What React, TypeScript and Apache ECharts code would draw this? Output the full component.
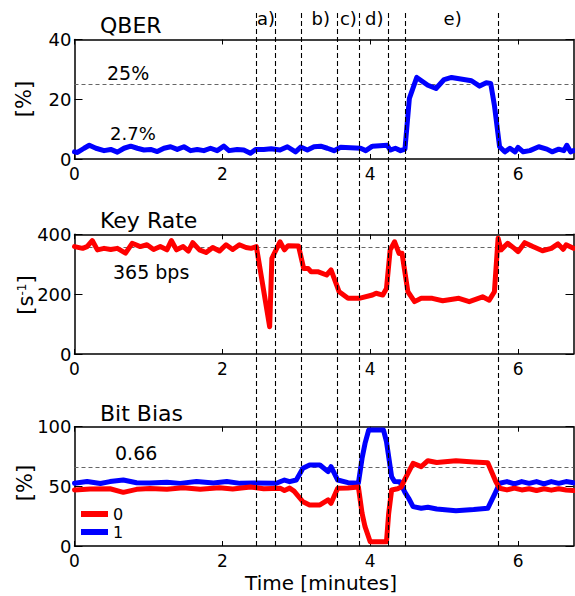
import React, { useEffect, useRef } from 'react';
import * as echarts from 'echarts';

const FONT = 'DejaVu Sans';
const X_MAX = 6.75;
const xTickValues = [0, 2, 4, 6];

// QBER [%] vs time [minutes]
const qberData: [number, number][] = [
  [0, 2.4], [0.04, 2.2], [0.13, 3.6], [0.2, 4.6], [0.29, 3.6], [0.4, 2.8], [0.49, 3.2], [0.58, 2.3],
  [0.67, 3.6], [0.76, 4.3], [0.85, 3.6], [0.94, 3.0], [1.03, 3.2], [1.12, 2.5], [1.21, 3.6], [1.3, 4.1],
  [1.39, 3.2], [1.48, 4.1], [1.57, 2.8], [1.66, 3.2], [1.75, 2.8], [1.84, 3.6], [1.93, 2.8], [2.02, 4.3],
  [2.09, 2.8], [2.2, 3.2], [2.29, 3.0], [2.38, 1.9], [2.45, 3.2], [2.56, 3.2], [2.66, 3.4], [2.78, 3.0],
  [2.88, 4.1], [2.99, 2.4], [3.06, 4.0], [3.15, 3.0], [3.24, 4.1], [3.33, 4.3], [3.42, 3.6], [3.51, 2.8],
  [3.6, 3.9], [3.87, 3.6], [3.94, 2.8], [4.03, 4.3], [4.23, 4.6], [4.27, 3.0], [4.34, 3.6], [4.41, 2.8],
  [4.47, 3.3], [4.53, 20.3], [4.63, 27.3], [4.78, 24.7], [4.89, 23.6], [5.0, 26.6], [5.1, 27.3],
  [5.37, 26.2], [5.48, 24.4], [5.57, 25.5], [5.63, 25.3], [5.68, 18], [5.75, 4.1], [5.82, 2.4],
  [5.89, 3.6], [5.96, 2.4], [6.0, 3.9], [6.07, 2.4], [6.16, 2.8], [6.28, 4.1], [6.39, 3.3], [6.46, 2.4],
  [6.55, 3.3], [6.62, 2.8], [6.66, 4.6], [6.71, 2.4], [6.75, 2.8],
];

// Key rate [1/s] vs time [minutes]
const keyRateData: [number, number][] = [
  [0, 359], [0.11, 353], [0.17, 359], [0.24, 379], [0.31, 348], [0.4, 353], [0.49, 349], [0.58, 353],
  [0.69, 337], [0.78, 370], [0.89, 359], [0.98, 365], [1.07, 349], [1.16, 359], [1.25, 348], [1.31, 379],
  [1.38, 348], [1.47, 359], [1.54, 344], [1.6, 372], [1.69, 348], [1.78, 339], [1.87, 356], [1.96, 344],
  [2.05, 365], [2.14, 349], [2.23, 365], [2.32, 356], [2.39, 353], [2.46, 359], [2.64, 91], [2.67, 320],
  [2.78, 375], [2.84, 348], [2.89, 362], [3.03, 361], [3.1, 286], [3.16, 286], [3.2, 275], [3.29, 275],
  [3.41, 264], [3.47, 281], [3.58, 208], [3.7, 186], [3.85, 186], [4.03, 197], [4.08, 203], [4.17, 197],
  [4.22, 219], [4.27, 348], [4.33, 375], [4.39, 336], [4.43, 337], [4.51, 208], [4.6, 175], [4.69, 186],
  [4.84, 186], [4.98, 178], [5.2, 186], [5.34, 175], [5.52, 191], [5.61, 180], [5.68, 208], [5.73, 387],
  [5.77, 348], [5.86, 370], [5.95, 353], [6.0, 342], [6.09, 372], [6.2, 359], [6.33, 345], [6.45, 353],
  [6.54, 368], [6.61, 350], [6.65, 365], [6.75, 353],
];

// Bit bias [%] of bit value 0 (red) and 1 (blue)
const bit0Data: [number, number][] = [
  [0, 47], [0.21, 47.8], [0.48, 48], [0.66, 45], [0.84, 47.5], [1.02, 48.2], [1.25, 47.5], [1.47, 48.8],
  [1.7, 47.5], [1.96, 48.8], [2.14, 47.8], [2.38, 49.5], [2.56, 48], [2.78, 48.5], [2.84, 46.5], [2.91, 48.5],
  [2.97, 46], [3.09, 37.1], [3.18, 34.4], [3.32, 34.4], [3.43, 38.6], [3.47, 35.8], [3.56, 48.4],
  [3.7, 48.7], [3.84, 49.5], [3.89, 27.4], [3.93, 16.2], [4.0, 3.6], [4.22, 3.6], [4.25, 27.4],
  [4.29, 47], [4.37, 48], [4.42, 49.5], [4.47, 56], [4.58, 69.3], [4.69, 66.5], [4.78, 71.5], [4.9, 70],
  [5.16, 71.5], [5.4, 70.5], [5.59, 69.8], [5.7, 53.9], [5.75, 48.4], [5.85, 47], [5.95, 48.5],
  [6.05, 47], [6.15, 48], [6.25, 46.5], [6.35, 48], [6.45, 46.8], [6.55, 48], [6.65, 47],
  [6.75, 46.5],
];
const bit1Data: [number, number][] = [
  [0, 52.6], [0.17, 54], [0.35, 52.4], [0.48, 54], [0.66, 55.3], [0.84, 53], [1.02, 52.8], [1.25, 53.5],
  [1.43, 52.5], [1.65, 54], [1.88, 52.8], [2.06, 54], [2.24, 52.5], [2.42, 52.8], [2.73, 52.6], [2.84, 55.3],
  [2.91, 53.9], [3.0, 55.3], [3.09, 65.1], [3.18, 67.9], [3.32, 67.9], [3.43, 62.3], [3.47, 66.5],
  [3.56, 55.3], [3.7, 53.1], [3.84, 52.6], [3.89, 73.5], [3.93, 86], [3.98, 97.2], [4.18, 97.2],
  [4.22, 87.4], [4.29, 58], [4.33, 54], [4.4, 53.9], [4.47, 45], [4.52, 40], [4.58, 33], [4.69, 31.6],
  [4.78, 32.5], [4.9, 31], [5.16, 29.6], [5.4, 30.5], [5.59, 31.6], [5.7, 45.5], [5.75, 52.6],
  [5.85, 54], [5.95, 52], [6.05, 54], [6.15, 52.5], [6.25, 54], [6.35, 52], [6.45, 54], [6.55, 52.5],
  [6.65, 54], [6.75, 53],
];

// Reference levels
const qberRef = 25;
const keyRateRef = 358;
const biasRef = 66;

// Event boundaries [minutes] and their labels
const eventTimes = [2.456, 2.717, 3.069, 3.556, 3.854, 4.242, 4.476, 5.731];
const eventLabels = ['a)', 'b)', 'c)', 'd)', 'e)'];
const eventLabelTimes = [2.59, 3.33, 3.705, 4.055, 5.115];

const grids = [
  { left: 74.5, right: 1.5, top: 39.5, height: 119.5 },
  { left: 74.5, right: 1.5, top: 234.3, height: 119.7 },
  { left: 74.5, right: 1.5, top: 426.7, height: 119.3 },
  { left: 74.5, right: 1.5, top: 13, height: 533 },
];
const yRanges = [
  { max: 40, interval: 20 },
  { max: 400, interval: 200 },
  { max: 100, interval: 50 },
];

const axisLine = { show: true, onZero: false, lineStyle: { color: '#000', width: 1.5 } };

function buildOption(): any {
  const xAxis: any[] = [];
  const yAxis: any[] = [];
  for (let i = 0; i < 3; i++) {
    xAxis.push({
      type: 'value', gridIndex: i, min: 0, max: X_MAX, position: 'bottom',
      axisLine,
      axisTick: { show: true, inside: true, length: 5, customValues: xTickValues, lineStyle: { color: '#000', width: 1 } },
      axisLabel: { show: true, customValues: xTickValues, margin: 6, color: '#000', fontFamily: FONT, fontSize: 17 },
      splitLine: { show: false },
    });
    yAxis.push({
      type: 'value', gridIndex: i, min: 0, max: yRanges[i].max, interval: yRanges[i].interval, position: 'left',
      axisLine,
      axisTick: { show: true, inside: true, length: 8, lineStyle: { color: '#000', width: 1 } },
      axisLabel: { show: true, margin: 3, color: '#000', fontFamily: FONT, fontSize: 18 },
      splitLine: { show: false },
    });
  }
  for (let i = 0; i < 3; i++) {
    xAxis.push({
      type: 'value', gridIndex: i, min: 0, max: X_MAX, position: 'top',
      axisLine,
      axisTick: { show: true, inside: true, length: 5, customValues: xTickValues, lineStyle: { color: '#000', width: 1 } },
      axisLabel: { show: false },
      splitLine: { show: false },
    });
    yAxis.push({
      type: 'value', gridIndex: i, min: 0, max: yRanges[i].max, interval: yRanges[i].interval, position: 'right',
      axisLine,
      axisTick: { show: true, inside: true, length: 8, lineStyle: { color: '#000', width: 1 } },
      axisLabel: { show: false },
      splitLine: { show: false },
    });
  }
  xAxis.push({ type: 'value', gridIndex: 3, min: 0, max: X_MAX, show: false });
  yAxis.push({ type: 'value', gridIndex: 3, min: 0, max: 1, show: false });

  const refLine = (v: number) => ({
    silent: true,
    symbol: ['none', 'none'],
    label: { show: false },
    lineStyle: { color: '#666', width: 1, type: [4, 3] },
    data: [{ yAxis: v }],
    z: 1,
  });

  const lineSeries = (name: string, data: [number, number][], color: string, idx: number, ref?: number) => ({
    type: 'line', name, data, xAxisIndex: idx, yAxisIndex: idx,
    showSymbol: false, symbol: 'none', z: 3,
    lineStyle: { color, width: 5, join: 'round', cap: 'round' },
    itemStyle: { color },
    markLine: ref !== undefined ? refLine(ref) : undefined,
  });

  const text = (t: string, x: number, y: number, size: number, extra: any = {}) => ({
    type: 'text', x, y, ...extra,
    style: { text: t, fontFamily: FONT, fontSize: size, fill: '#000', textVerticalAlign: 'middle', verticalAlign: 'middle', ...(extra.style || {}) },
  });

  return {
    animation: false,
    backgroundColor: '#fff',
    grid: grids,
    xAxis,
    yAxis,
    legend: {
      data: ['0', '1'], orient: 'vertical', left: 81, top: 506,
      itemWidth: 27, itemHeight: 6, itemGap: 2, icon: 'rect', padding: 0,
      textStyle: { fontFamily: FONT, fontSize: 16, color: '#000', lineHeight: 16 },
    },
    series: [
      lineSeries('QBER', qberData, '#0000ff', 0, qberRef),
      lineSeries('Key Rate', keyRateData, '#ff0000', 1, keyRateRef),
      lineSeries('1', bit1Data, '#0000ff', 2, biasRef),
      lineSeries('0', bit0Data, '#ff0000', 2),
      {
        type: 'scatter', name: 'events', xAxisIndex: 6, yAxisIndex: 6, z: 1,
        symbolSize: 0, silent: true,
        itemStyle: { opacity: 1, color: '#000' },
        data: eventLabels.map((n, i) => ({ name: n, value: [eventLabelTimes[i], 0.9906] })),
        label: { show: true, position: 'inside', opacity: 1, formatter: (p: any) => p.name, fontFamily: FONT, fontSize: 18, color: '#000' },
        markLine: {
          silent: true, symbol: ['none', 'none'], label: { show: false },
          lineStyle: { color: '#000', width: 1.1, type: [5, 3], opacity: 1 },
          data: eventTimes.map((t) => ({ xAxis: t })),
        },
      },
    ],
    graphic: [
      text('QBER', 100, 25, 22),
      text('Key Rate', 100, 220, 22),
      text('Bit Bias', 100, 413, 22),
      text('25%', 107, 72.5, 19),
      text('2.7%', 110, 133.5, 18),
      text('365 bps', 113, 272, 19),
      text('0.66', 115, 453, 19),
      text('[%]', 24, 99, 21, { rotation: Math.PI / 2, style: { align: 'center', textAlign: 'center' } }),
      {
        type: 'text', x: 26, y: 295, rotation: Math.PI / 2,
        style: {
          text: '{a|[s}{b|-1}{a|]}', align: 'center', verticalAlign: 'middle',
          fontFamily: FONT, fill: '#000',
          rich: {
            a: { fontFamily: FONT, fontSize: 21, fill: '#000' },
            b: { fontFamily: FONT, fontSize: 12, fill: '#000', verticalAlign: 'top' },
          },
        },
      },
      text('[%]', 25, 483, 21, { rotation: Math.PI / 2, style: { align: 'center', textAlign: 'center' } }),
      text('Time [minutes]', 321, 583, 20, { style: { align: 'center', textAlign: 'center' } }),
    ],
  };
}

export default function App() {
  const ref = useRef<HTMLDivElement>(null);
  useEffect(() => {
    if (!ref.current) return;
    const chart = echarts.init(ref.current, null, { renderer: 'svg' });
    chart.setOption(buildOption());
    return () => chart.dispose();
  }, []);
  return (
    <div
      ref={ref}
      style={{ position: 'absolute', left: 0, top: 0, width: 575, height: 596, background: '#fff' }}
    />
  );
}
